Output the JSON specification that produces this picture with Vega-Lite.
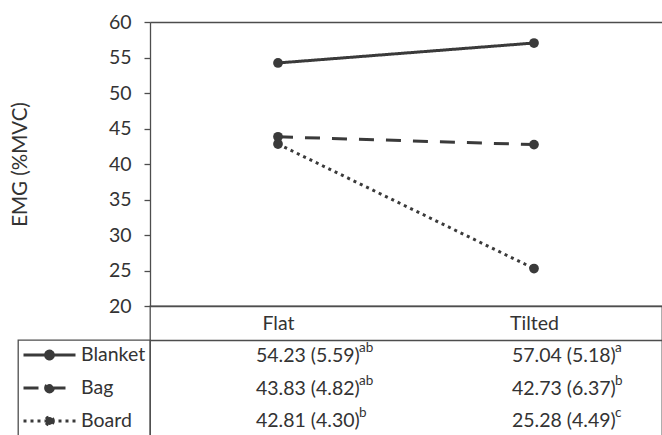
{
  "$schema": "https://vega.github.io/schema/vega-lite/v6.json",
  "padding": {"left": 9, "top": 11, "right": 0, "bottom": 0},
  "background": "white",
  "bounds": "flush",
  "spacing": 0,
  "data": {
    "values": [
      {"series": "Blanket", "condition": "Flat", "emg": 54.23, "stat": "54.23 (5.59)", "sig": "ab"},
      {"series": "Blanket", "condition": "Tilted", "emg": 57.04, "stat": "57.04 (5.18)", "sig": "a"},
      {"series": "Bag", "condition": "Flat", "emg": 43.83, "stat": "43.83 (4.82)", "sig": "ab"},
      {"series": "Bag", "condition": "Tilted", "emg": 42.73, "stat": "42.73 (6.37)", "sig": "b"},
      {"series": "Board", "condition": "Flat", "emg": 42.81, "stat": "42.81 (4.30)", "sig": "b"},
      {"series": "Board", "condition": "Tilted", "emg": 25.28, "stat": "25.28 (4.49)", "sig": "c"}
    ]
  },
  "config": {
    "font": "Lato",
    "axis": {
      "labelFont": "Lato",
      "titleFont": "Lato",
      "labelColor": "#333333",
      "titleColor": "#333333",
      "domainColor": "#4d4d4d",
      "tickColor": "#4d4d4d",
      "domainWidth": 1.3,
      "tickWidth": 1.3
    },
    "view": {"stroke": "#d9d9d9"}
  },
  "vconcat": [
    {
      "width": 512,
      "height": 284,
      "view": {"stroke": "#d9d9d9"},
      "encoding": {
        "x": {
          "field": "condition",
          "type": "nominal",
          "sort": ["Flat", "Tilted"],
          "scale": {"type": "point", "padding": 0.5},
          "axis": {
            "title": null,
            "ticks": false,
            "labelFontSize": 19.5,
            "labelPadding": 17,
            "labelBaseline": "middle",
            "labelAngle": 0
          }
        },
        "y": {
          "field": "emg",
          "type": "quantitative",
          "scale": {"domain": [20, 60], "nice": false, "zero": false},
          "axis": {
            "title": "EMG (%MVC)",
            "values": [20, 25, 30, 35, 40, 45, 50, 55, 60],
            "labelFontSize": 19.5,
            "titleFontSize": 20.5,
            "titleFontWeight": "normal",
            "tickSize": 6,
            "labelPadding": 13,
            "titlePadding": 78,
            "grid": true,
            "gridWidth": 1.3,
            "gridColor": {"condition": {"test": "datum.value === 60", "value": "#4d4d4d"}, "value": "transparent"}
          }
        }
      },
      "layer": [
        {
          "mark": {"type": "line", "color": "#3a3a3a", "strokeWidth": 3},
          "encoding": {
            "strokeDash": {
              "field": "series",
              "type": "nominal",
              "scale": {"domain": ["Blanket", "Bag", "Board"], "range": [[1, 0], [15, 12], [3, 4]]},
              "legend": {
                "title": null,
                "orient": "none",
                "legendX": -132,
                "legendY": 318,
                "direction": "vertical",
                "symbolType": "M-1,0H1M0.15,0A0.15,0.15,0,1,1,-0.15,0A0.15,0.15,0,1,1,0.15,0Z",
                "symbolSize": 2704,
                "symbolStrokeWidth": 3,
                "symbolStrokeColor": "#3a3a3a",
                "symbolFillColor": "#3a3a3a",
                "labelFontSize": 19.5,
                "labelColor": "#333333",
                "labelOffset": 4,
                "clipHeight": 22,
                "rowPadding": 11,
                "padding": 4,
                "strokeColor": "#4d4d4d",
                "encode": {
                  "symbols": {"update": {"fill": {"value": "#3a3a3a"}, "stroke": {"value": "#3a3a3a"}}},
                  "legend": {"update": {"strokeWidth": {"value": 1.3}}}
                }
              }
            }
          }
        },
        {
          "mark": {"type": "point", "filled": true, "color": "#3a3a3a", "size": 95, "opacity": 1},
          "encoding": {"detail": {"field": "series", "type": "nominal"}}
        }
      ]
    },
    {
      "width": 512,
      "height": 132,
      "view": {"stroke": "#4d4d4d", "strokeWidth": 1.3},
      "encoding": {
        "x": {
          "field": "condition",
          "type": "nominal",
          "sort": ["Flat", "Tilted"],
          "scale": {"type": "point", "padding": 0.5},
          "axis": null
        },
        "y": {
          "field": "series",
          "type": "nominal",
          "scale": {"type": "band", "domain": ["Blanket", "Bag", "Board"], "range": [34, 131], "paddingInner": 0, "paddingOuter": 0},
          "axis": {
            "title": null,
            "labels": false,
            "ticks": false,
            "domain": false,
            "grid": true,
            "values": ["Blanket"],
            "bandPosition": 0,
            "gridColor": "#4d4d4d",
            "gridWidth": 1.3
          }
        }
      },
      "layer": [
        {
          "mark": {"type": "text", "align": "left", "baseline": "middle", "dx": -22, "fontSize": 19.5, "color": "#333333"},
          "encoding": {"text": {"field": "stat"}}
        },
        {
          "mark": {"type": "text", "align": "left", "baseline": "middle", "dx": 81, "dy": -8, "fontSize": 13.5, "color": "#333333"},
          "encoding": {"text": {"field": "sig"}}
        }
      ]
    }
  ]
}
